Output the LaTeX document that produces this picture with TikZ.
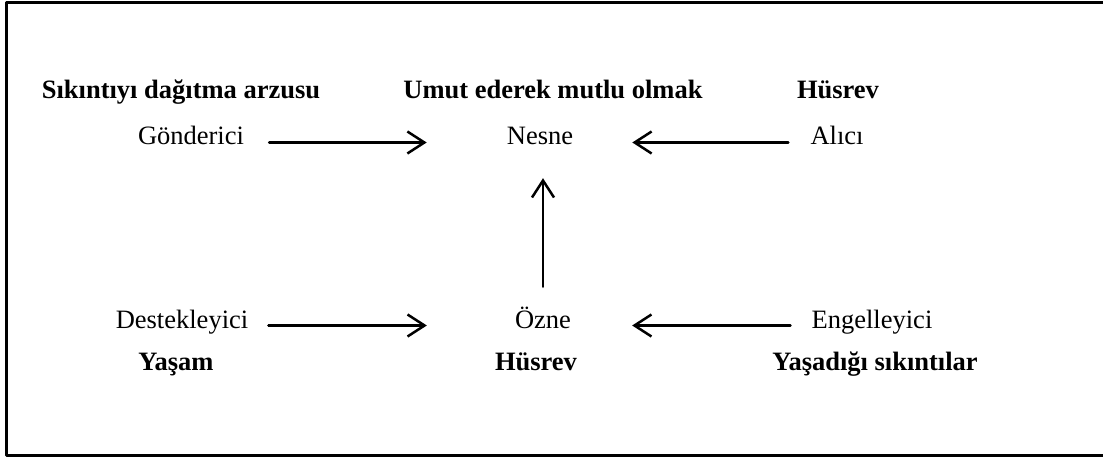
\documentclass[tikz,border=0pt]{standalone}
\usepackage{fontspec}
\setmainfont{Liberation Serif}
\usepackage{tikz}
\usetikzlibrary{arrows.meta}

\begin{document}
\begin{tikzpicture}[line cap=round,line join=round,x=1pt,y=-1pt,
		font=\fontsize{26.5}{30}\selectfont,
		role/.style={inner sep=0pt,anchor=base,text height=16pt,text depth=11pt},
		titre/.style={inner sep=0pt,anchor=base,font=\fontsize{26.5}{30}\selectfont\bfseries},
		fleche/.style={line width=2.5pt,-{Straight Barb[length=17pt,width=22pt,line width=2.5pt]}}]
			\useasboundingbox (0,0) rectangle (1103,457);
			% cadre
			\draw[line width=3pt,line cap=butt] (1104,3)--(6.5,3)--(6.5,455)--(1104,455);
			% Etage 1
			\node[titre] (arzu) at (181,99) {Sıkıntıyı dağıtma arzusu};
			\node[titre] (umut) at (553,99) {Umut ederek mutlu olmak};
			\node[titre] (husrev1) at (838,99) {Hüsrev};
			\node[role] (gond) at (191,145) {Gönderici};
			\node[role] (nesne) at (540,145) {Nesne};
			\node[role] (alici) at (837,145) {Alıcı};
			% Etage 2
			\node[role] (destek) at (182,328) {Destekleyici};
			\node[role] (ozne) at (543,328) {Özne};
			\node[role] (engel) at (872,328) {Engelleyici};
			\node[titre] (yasam) at (176,370) {Yaşam};
			\node[titre] (husrev2) at (536,370) {Hüsrev};
			\node[titre] (sikinti) at (875,370) {Yaşadığı sıkıntılar};
			% fleches
			\draw[fleche,shorten <=25pt,shorten >=80pt] (gond.east)--(nesne.west);
			\draw[fleche,shorten <=22pt,shorten >=59pt] (alici.west)--(nesne.east);
			\draw[fleche,shorten <=20pt,shorten >=88pt] (destek.east)--(ozne.west);
			\draw[fleche,shorten <=21pt,shorten >=61pt] (engel.west)--(ozne.east);
			\draw[fleche,shorten <=25pt,shorten >=22pt] (ozne.north)--(ozne.north |- nesne.south);
	\end{tikzpicture}
\end{document}
